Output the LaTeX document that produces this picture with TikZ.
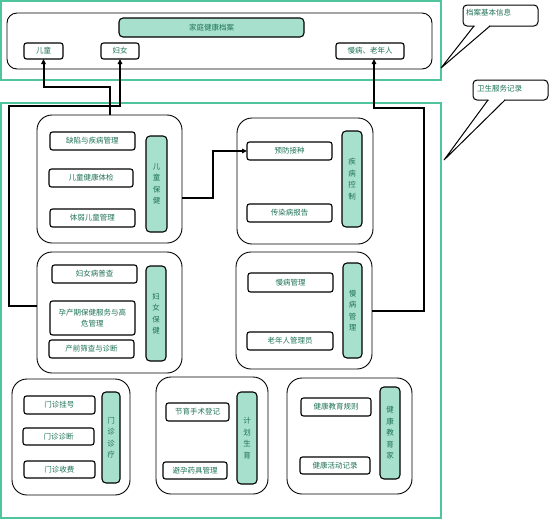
\documentclass[tikz,border=0pt]{standalone}
\usepackage{fontspec}
\setmainfont{Noto Sans CJK SC}
\usetikzlibrary{arrows.meta}
\definecolor{frameg}{RGB}{80,196,156}
\definecolor{fillg}{RGB}{168,224,206}
\definecolor{txtg}{RGB}{30,115,85}
\begin{document}
\begin{tikzpicture}[x=1pt,y=-1pt,
 every node/.style={font=\fontsize{7.5}{9}\selectfont, text=txtg, inner sep=0pt, outer sep=0pt},
 item/.style={draw=black, line width=1.1pt, rounded corners=2.5pt, fill=white},
 vlab/.style={draw=black, line width=1.1pt, rounded corners=4pt, fill=fillg, align=center, font=\fontsize{7.5}{11.5}\selectfont},
 grp/.style={draw=black, line width=0.9pt, rounded corners=15pt},
 gframe/.style={draw=frameg, line width=2pt},
 conn/.style={draw=black, line width=2pt},
 tip/.style={-{Triangle[length=5pt,width=4.5pt]}},
 callout/.style={draw=black, line width=1pt, rounded corners=4pt, fill=white},
]
\useasboundingbox (0,0) rectangle (550,520);
\fill[white] (0,0) rectangle (550,520);

% frames
\node[gframe, minimum width=440pt, minimum height=79pt] (ftop) at (221,40.5) {};
\node[gframe, minimum width=440pt, minimum height=415pt] (fbot) at (221,310.5) {};

% top section
\node[draw=black, line width=0.9pt, rounded corners=10pt, minimum width=425pt, minimum height=56pt] (topbox) at (219.5,41) {};
\node[vlab, minimum width=185pt, minimum height=19pt] (title) at (211.5,27.5) {家庭健康档案};
\node[item, minimum width=39pt, minimum height=16pt] (c1) at (43.5,51) {儿童};
\node[item, minimum width=38pt, minimum height=16pt] (c2) at (120,51) {妇女};
\node[item, minimum width=68pt, minimum height=16pt] (c3) at (370,51) {慢病、老年人};

% groups
\node[grp, minimum width=145pt, minimum height=128pt] (g1) at (109.5,179) {};
\node[grp, minimum width=136pt, minimum height=126pt] (g2) at (305,181) {};
\node[grp, minimum width=145pt, minimum height=121pt] (g3) at (109.5,312.5) {};
\node[grp, minimum width=136pt, minimum height=117pt] (g4) at (304,310.5) {};
\node[grp, minimum width=118pt, minimum height=116pt] (g5) at (71,437) {};
\node[grp, minimum width=112pt, minimum height=117pt] (g6) at (212,435.5) {};
\node[grp, minimum width=125pt, minimum height=116pt] (g7) at (349.5,436) {};

% group 1
\node[item, minimum width=85pt, minimum height=18pt] (a1) at (92.5,141) {缺陷与疾病管理};
\node[item, minimum width=84pt, minimum height=18pt] (a2) at (91,178) {儿童健康体检};
\node[item, minimum width=85pt, minimum height=18pt] (a3) at (92.5,218) {体弱儿童管理};
\node[vlab, minimum width=21pt, minimum height=96pt] (v1) at (156.5,184) {儿\\童\\保\\健};

% group 2
\node[item, minimum width=85pt, minimum height=18pt] (b1) at (289.5,151) {预防接种};
\node[item, minimum width=85pt, minimum height=18pt] (b2) at (289.5,213) {传染病报告};
\node[vlab, minimum width=20pt, minimum height=96pt] (v2) at (352,179) {疾\\病\\控\\制};

% group 3
\node[item, minimum width=85pt, minimum height=18pt] (d1) at (94.5,274) {妇女病普查};
\node[item, minimum width=85pt, minimum height=34pt, align=center, font=\fontsize{7.5}{11.5}\selectfont] (d2) at (92.5,318) {孕产期保健服务与高\\危管理};
\node[item, minimum width=85pt, minimum height=18pt] (d3) at (91.5,349) {产前筛查与诊断};
\node[vlab, minimum width=20pt, minimum height=95pt] (v3) at (156,313.5) {妇\\女\\保\\健};

% group 4
\node[item, minimum width=85pt, minimum height=19pt] (e1) at (290.5,282.5) {慢病管理};
\node[item, minimum width=86pt, minimum height=18pt] (e2) at (290,341) {老年人管理员};
\node[vlab, minimum width=19pt, minimum height=95pt] (v4) at (352.5,310.5) {慢\\病\\管\\理};

% group 5
\node[item, minimum width=71pt, minimum height=18pt] (f1) at (59.5,405) {门诊挂号};
\node[item, minimum width=71pt, minimum height=17pt] (f2) at (58.5,436.5) {门诊诊断};
\node[item, minimum width=71pt, minimum height=17pt] (f3) at (59.5,469.5) {门诊收费};
\node[vlab, minimum width=18pt, minimum height=91pt] (v5) at (111,437.5) {门\\诊\\诊\\疗};

% group 6
\node[item, minimum width=63pt, minimum height=18pt] (h1) at (197.5,412) {节育手术登记};
\node[item, minimum width=64pt, minimum height=17pt] (h2) at (195,470.5) {避孕药具管理};
\node[vlab, minimum width=20pt, minimum height=92pt] (v6) at (247,438) {计\\划\\生\\育};

% group 7
\node[item, minimum width=70pt, minimum height=18pt] (k1) at (336,407) {健康教育规则};
\node[item, minimum width=70pt, minimum height=17pt] (k2) at (335,465.5) {健康活动记录};
\node[vlab, minimum width=20pt, minimum height=92pt] (v7) at (390,433) {健\\康\\教\\育\\家};

% connectors
\coordinate (p2) at (9,106);
\coordinate (p3) at (424,108);
\draw[conn,tip] (g1.north) -- ++(0,-28) -| (c1.south);
\draw[conn,tip] ([yshift=6.5pt]g3.west) -| (p2) -| (c2.south);
\draw[conn,tip] (g4.east) -| (p3) -| ([xshift=4pt]c3.south);
\draw[conn,tip] ([yshift=-19pt]g1.east) -- ++(31,0) |- (b1.west);

% callouts
\node[callout, minimum width=75pt, minimum height=21pt] (co1) at (500.5,15.5) {};
\fill[white] (474.5,24.6) -- (489,24.6) -- (489,27) -- (441,68) -- (474.5,27) -- cycle;
\draw[line width=1pt, line join=miter] (474,26) -- (441,68) -- (490,26);
\node[anchor=west] (co1t) at (466,13) {档案基本信息};

\node[callout, minimum width=75pt, minimum height=20pt] (co2) at (510.5,90) {};
\fill[white] (488.5,98.6) -- (504,98.6) -- (504,101) -- (444,160) -- (488.5,101) -- cycle;
\draw[line width=1pt, line join=miter] (488,100) -- (444,160) -- (505,100);
\node[anchor=west] (co2t) at (477,89) {卫生服务记录};
\end{tikzpicture}
\end{document}
